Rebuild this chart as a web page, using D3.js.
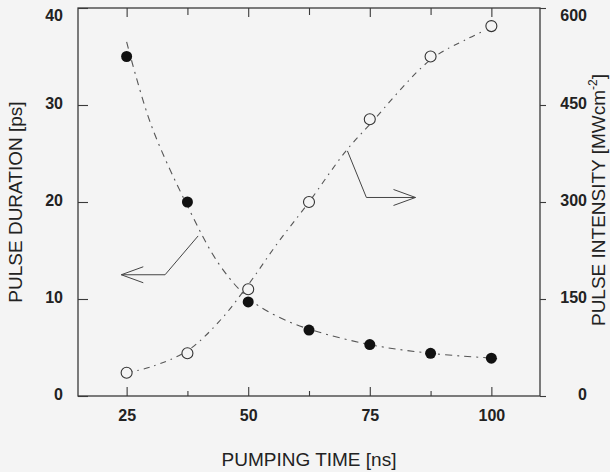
<!DOCTYPE html>
<html><head><meta charset="utf-8">
<script src="https://cdn.jsdelivr.net/npm/d3@7"></script>
<style>
html,body{margin:0;padding:0;background:#f4f4f4;}
svg{display:block;font-family:"Liberation Sans",Arial,sans-serif;}
</style></head>
<body><svg id="c" width="610" height="472"></svg>
<script>
// ---- data ----
const pumpingTime = [25, 37.5, 50, 62.5, 75, 87.5, 100];
const pulseDuration = [35.0, 20.0, 9.7, 6.8, 5.3, 4.4, 3.9];          // ps (filled)
const pulseIntensity = [36, 66, 165, 300, 428, 525, 572];            // MW cm^-2 (open)
const durationFitX = [25, 30, 37.5, 44, 50, 56, 62.5, 75, 87.5, 100, 102];
const durationFitY = [36.5, 28, 19.6, 13.6, 10.1, 8.2, 6.9, 5.3, 4.4, 3.9, 3.8];
const intensityFitX = [25, 30, 37.5, 44, 50, 56, 62.5, 70, 75, 87.5, 95, 98];
const intensityFitY = [36, 45, 70, 115, 172, 236, 300, 378, 420, 520, 552, 563];
const xTicks = [25, 50, 75, 100];
const xMinorTicks = [37.5, 62.5, 87.5];
const leftTicks = [0, 10, 20, 30, 40];
const rightTicks = [0, 150, 300, 450, 600];
const leftArrowX = [39.7, 32.9, 23.9], leftArrowY = [16.5, 12.5, 12.5];      // ps
const rightArrowX = [70.4, 74.3, 84.4], rightArrowY = [379, 307, 307];       // MW

const svg = d3.select("#c");
const L = 78, R = 540, T = 8, B = 396;
const x = d3.scaleLinear().domain([15, 110]).range([L, R]);
const yL = d3.scaleLinear().domain([0, 40]).range([B, T]);
const yR = d3.scaleLinear().domain([0, 600]).range([B, T]);
const ink = "#3a3a3a";
const font = "'Liberation Sans',Arial,sans-serif";

// frame
svg.append("rect").attr("x", L).attr("y", T).attr("width", R - L).attr("height", B - T)
  .attr("fill", "none").attr("stroke", ink).attr("stroke-width", 1.3);

// bottom axis (ticks inward)
svg.append("g").attr("transform", `translate(0,${B})`)
  .call(d3.axisBottom(x).tickValues(xTicks).tickSize(-9).tickPadding(14).tickFormat(d3.format("d")));
svg.append("g").attr("transform", `translate(0,${B})`)
  .call(d3.axisBottom(x).tickValues(xMinorTicks).tickSize(-5).tickFormat(""));
// top axis ticks inward
svg.append("g").attr("transform", `translate(0,${T})`)
  .call(d3.axisTop(x).tickValues(xTicks).tickSize(-9).tickFormat(""));
svg.append("g").attr("transform", `translate(0,${T})`)
  .call(d3.axisTop(x).tickValues(xMinorTicks).tickSize(-7).tickFormat(""));
// left axis (inward ticks)
svg.append("g").attr("class", "yl").attr("transform", `translate(${L},0)`)
  .call(d3.axisLeft(yL).tickValues(leftTicks).tickSize(-10).tickPadding(15).tickFormat(d3.format("d")));
// right axis (outward ticks, labels right-aligned)
svg.append("g").attr("class", "yr").attr("transform", `translate(${R},0)`)
  .call(d3.axisRight(yR).tickValues(rightTicks).tickSize(6).tickPadding(8).tickFormat(d3.format("d")));

svg.selectAll(".domain").remove();
svg.selectAll(".tick line").attr("stroke", ink).attr("stroke-width", 1.1);
svg.selectAll(".tick text").attr("fill", "#222").attr("font-size", 16).attr("font-weight", "bold")
  .attr("font-family", font);
svg.selectAll(".yr .tick text").attr("text-anchor", "end").attr("x", 47);
svg.selectAll(".yl .tick text, .yr .tick text").attr("dy", (d, i, n) => (d === 40 || d === 600) ? "0.75em" : "0.2em");

// fit curves
const lineL = d3.line().x(d => x(d[0])).y(d => yL(d[1])).curve(d3.curveCatmullRom.alpha(0.5));
const lineR = d3.line().x(d => x(d[0])).y(d => yR(d[1])).curve(d3.curveCatmullRom.alpha(0.5));
svg.append("path").datum(d3.zip(durationFitX, durationFitY)).attr("d", lineL)
  .attr("fill", "none").attr("stroke", "#555").attr("stroke-width", 1.1).attr("stroke-dasharray", "7,5,2,5");
svg.append("path").datum(d3.zip(intensityFitX, intensityFitY)).attr("d", lineR)
  .attr("fill", "none").attr("stroke", "#555").attr("stroke-width", 1.1).attr("stroke-dasharray", "6,5,1.5,5");

// arrows
const straightL = d3.line().x(d => x(d[0])).y(d => yL(d[1]));
const straightR = d3.line().x(d => x(d[0])).y(d => yR(d[1]));
svg.append("path").datum(d3.zip(leftArrowX, leftArrowY)).attr("d", straightL)
  .attr("fill", "none").attr("stroke", "#444").attr("stroke-width", 1);
svg.append("path").datum(d3.zip(rightArrowX, rightArrowY)).attr("d", straightR)
  .attr("fill", "none").attr("stroke", "#444").attr("stroke-width", 1);
function head(tx, ty, dir) {
  svg.append("path").attr("d", `M${tx + dir * 22},${ty - 8}L${tx},${ty}L${tx + dir * 22},${ty + 8}`)
    .attr("fill", "none").attr("stroke", "#444").attr("stroke-width", 1);
}
head(x(leftArrowX[2]), yL(leftArrowY[2]), 1);
head(x(rightArrowX[2]), yR(rightArrowY[2]), -1);

// markers
svg.append("g").selectAll("circle").data(d3.zip(pumpingTime, pulseIntensity)).join("circle")
  .attr("cx", d => x(d[0])).attr("cy", d => yR(d[1])).attr("r", 5.5)
  .attr("fill", "#f4f4f4").attr("stroke", "#333").attr("stroke-width", 1.1);
svg.append("g").selectAll("circle").data(d3.zip(pumpingTime, pulseDuration)).join("circle")
  .attr("cx", d => x(d[0])).attr("cy", d => yL(d[1])).attr("r", 5.5)
  .attr("fill", "#111");

// axis titles
svg.append("text").attr("x", (L + R) / 2).attr("y", 466).attr("text-anchor", "middle")
  .attr("font-size", 19).attr("fill", "#222").text("PUMPING TIME [ns]");
svg.append("text").attr("transform", `translate(22,${(T + B) / 2}) rotate(-90)`).attr("text-anchor", "middle")
  .attr("font-size", 19).attr("fill", "#222").text("PULSE DURATION [ps]");
const rt = svg.append("text").attr("transform", `translate(605,${(T + B) / 2 - 2}) rotate(-90)`)
  .attr("text-anchor", "middle").attr("font-size", 19).attr("fill", "#222");
rt.append("tspan").text("PULSE INTENSITY [MWcm");
rt.append("tspan").attr("font-size", 12).attr("dy", -8).text("-2");
rt.append("tspan").attr("dy", 8).text("]");
</script></body></html>
